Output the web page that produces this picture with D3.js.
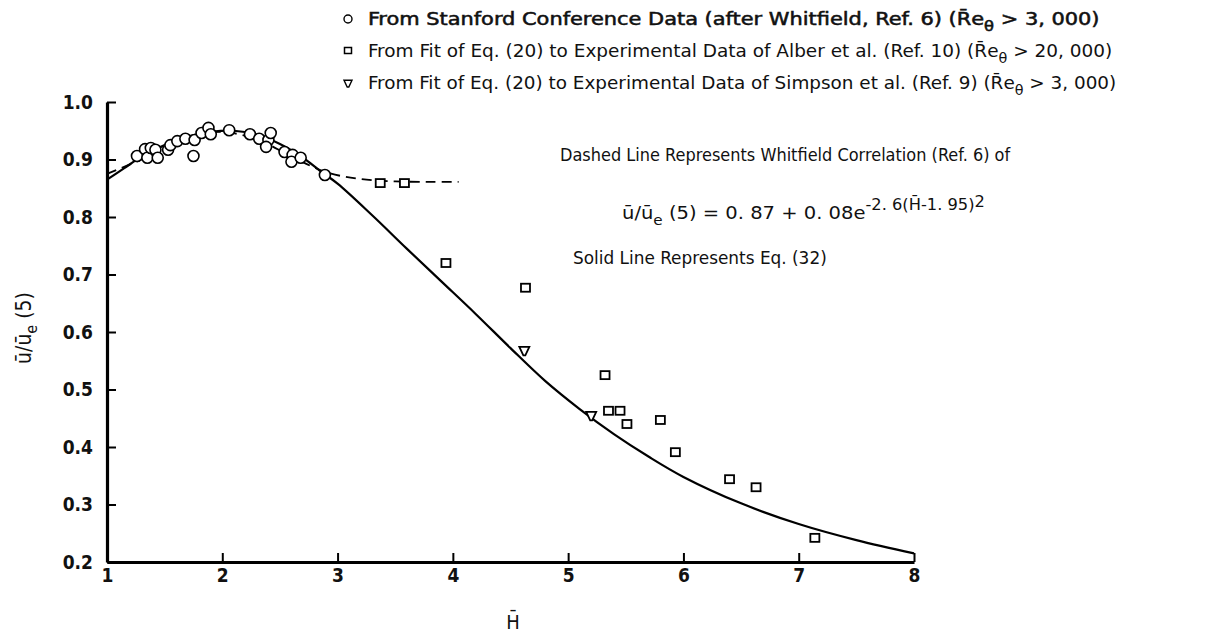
<!DOCTYPE html>
<html><head><meta charset="utf-8">
<script src="https://cdn.jsdelivr.net/npm/d3@7"></script>
<style>body{margin:0;background:#fff} svg{display:block}</style>
</head><body>
<svg id="c" width="1227" height="634"></svg>
<script>
// ---- data ----
const xTicks = [1, 2, 3, 4, 5, 6, 7, 8];
const yTicks = [0.2, 0.3, 0.4, 0.5, 0.6, 0.7, 0.8, 0.9, 1.0];

const stanfordH = [1.26,1.33,1.35,1.38,1.42,1.44,1.53,1.55,1.61,1.68,1.75,1.76,1.82,1.88,1.90,2.06,2.24,2.32,2.40,2.42,2.38,2.54,2.61,2.60,2.68,2.89];
const stanfordU = [0.906,0.918,0.903,0.920,0.917,0.903,0.917,0.925,0.932,0.936,0.906,0.934,0.946,0.955,0.944,0.951,0.944,0.936,0.934,0.946,0.922,0.913,0.908,0.896,0.903,0.873];

const alberH = [3.37,3.58,3.94,4.63,5.32,5.35,5.45,5.51,5.80,5.93,6.40,6.63,7.14];
const alberU = [0.859,0.859,0.720,0.677,0.525,0.463,0.463,0.440,0.447,0.391,0.344,0.330,0.242];

const simpsonH = [4.62, 5.20];
const simpsonU = [0.568, 0.455];

const eq32H = [1.0,1.15,1.3,1.5,1.7,1.9,2.1,2.3,2.5,2.7,2.85,3.0,3.3,3.6,3.9,4.2,4.5,4.8,5.1,5.4,5.7,6.0,6.5,7.0,7.5,8.0];
const eq32U = [0.865,0.885,0.905,0.925,0.940,0.948,0.950,0.943,0.927,0.903,0.880,0.858,0.803,0.745,0.688,0.631,0.572,0.515,0.466,0.422,0.383,0.348,0.302,0.266,0.238,0.215];

const whitH = [1.0,1.3,1.6,1.95,2.3,2.6,2.9,3.2,3.5,3.8,4.05];
const whitU = [0.875,0.900,0.928,0.948,0.935,0.905,0.878,0.866,0.862,0.861,0.861];

const legendLabels = [
  ["From Stanford Conference Data (after Whitfield, Ref. 6) (R\u0304e", "\u03b8", " > 3, 000)"],
  ["From Fit of Eq. (20) to Experimental Data of Alber et al. (Ref. 10) (R\u0304e", "\u03b8", " > 20, 000)"],
  ["From Fit of Eq. (20) to Experimental Data of Simpson et al. (Ref. 9) (R\u0304e", "\u03b8", " > 3, 000)"]
];

// ---- drawing ----
const svg = d3.select("#c");
const FONT = "'Liberation Sans Narrow','DejaVu Sans Condensed','Liberation Sans',sans-serif";
const x = d3.scaleLinear().domain([1, 8]).range([107, 914]);
const y = d3.scaleLinear().domain([0.2, 1.0]).range([562, 102]);

function fitText(sel, x1) {
  const bb = sel.node().getBBox();
  const s = (x1 - bb.x) / bb.width;
  sel.attr("transform", `translate(${bb.x},0) scale(${s},1) translate(${-bb.x},0)`);
}

// axes
const xAxis = d3.axisBottom(x).tickValues(xTicks).tickFormat(d3.format("d"))
  .tickSizeInner(-9).tickSizeOuter(0).tickPadding(7);
const yAxis = d3.axisLeft(y).tickValues(yTicks).tickFormat(d3.format(".1f"))
  .tickSizeInner(-9).tickSizeOuter(0).tickPadding(14);

const gx = svg.append("g").attr("transform", `translate(0,${y(0.2)})`).call(xAxis);
const gy = svg.append("g").attr("transform", `translate(${x(1)},0)`).call(yAxis);
[gx, gy].forEach(g => {
  g.select(".domain").attr("stroke", "#000").attr("stroke-width", 3.2);
  g.selectAll(".tick line").attr("stroke", "#000").attr("stroke-width", 2);
  g.selectAll(".tick text").attr("fill", "#111").style("font-family", FONT).style("font-size", "19px").style("font-weight", "bold");
});

// lines
const line = d3.line().x(d => x(d[0])).y(d => y(d[1])).curve(d3.curveCatmullRom);
svg.append("path").datum(whitH.map((h, i) => [h, whitU[i]]))
  .attr("d", line).attr("fill", "none").attr("stroke", "#000")
  .attr("stroke-width", 1.8).attr("stroke-dasharray", "10,6");
svg.append("path").datum(eq32H.map((h, i) => [h, eq32U[i]]))
  .attr("d", line).attr("fill", "none").attr("stroke", "#000").attr("stroke-width", 2.2);

// markers
const triPath = s => `M${-s},${-s*0.7}L${s},${-s*0.7}L${s*0.2},${s}L${-s*0.2},${s}Z`;

svg.append("g").selectAll("circle").data(stanfordH.map((h, i) => [h, stanfordU[i]]))
  .join("circle").attr("cx", d => x(d[0])).attr("cy", d => y(d[1])).attr("r", 5.5)
  .attr("fill", "#fff").attr("stroke", "#000").attr("stroke-width", 1.6);

svg.append("g").selectAll("rect").data(alberH.map((h, i) => [h, alberU[i]]))
  .join("rect").attr("x", d => x(d[0]) - 4.5).attr("y", d => y(d[1]) - 4).attr("width", 9).attr("height", 8)
  .attr("fill", "#fff").attr("stroke", "#000").attr("stroke-width", 1.8);

svg.append("g").selectAll("path").data(simpsonH.map((h, i) => [h, simpsonU[i]]))
  .join("path").attr("transform", d => `translate(${x(d[0])},${y(d[1])})`).attr("d", triPath(5))
  .attr("fill", "#fff").attr("stroke", "#000").attr("stroke-width", 1.8);

// legend
const legY = [25, 57, 89];
const legEnd = [1100, 1113, 1117];
legendLabels.forEach((parts, i) => {
  const cy = legY[i] - 6;
  if (i === 0) svg.append("circle").attr("cx", 348).attr("cy", cy).attr("r", 4).attr("fill", "#fff").attr("stroke", "#000").attr("stroke-width", 1.4);
  if (i === 1) svg.append("rect").attr("x", 344.5).attr("y", cy - 3.5).attr("width", 7).attr("height", 6).attr("fill", "#fff").attr("stroke", "#000").attr("stroke-width", 1.5);
  if (i === 2) svg.append("path").attr("transform", `translate(348,${cy})`).attr("d", triPath(4)).attr("fill", "#fff").attr("stroke", "#000").attr("stroke-width", 1.4);
  const t = svg.append("text").attr("x", 368).attr("y", legY[i])
    .style("font-family", FONT).style("font-size", "18px").attr("fill", "#111");
  if (i === 0) t.attr("stroke", "#111").attr("stroke-width", 0.5);
  t.append("tspan").text(parts[0]);
  t.append("tspan").attr("dy", 6).style("font-size", "14px").text(parts[1]);
  t.append("tspan").attr("dy", -6).text(parts[2]);
  fitText(t, legEnd[i]);
});

// annotations
const a1 = svg.append("text").attr("x", 560).attr("y", 161)
  .style("font-family", FONT).style("font-size", "18px").attr("fill", "#111")
  .text("Dashed Line Represents Whitfield Correlation (Ref. 6) of");
fitText(a1, 1012);

const a2 = svg.append("text").attr("x", 622).attr("y", 219)
  .style("font-family", FONT).style("font-size", "18px").attr("fill", "#111");
a2.append("tspan").text("\u016b/\u016b");
a2.append("tspan").attr("dy", 6).style("font-size", "14px").text("e");
a2.append("tspan").attr("dy", -6).text(" (5) = 0. 87 + 0. 08e");
a2.append("tspan").attr("dy", -9).style("font-size", "15px").text("-2. 6(H\u0304-1. 95)");
a2.append("tspan").attr("dy", -3).style("font-size", "15px").text("2");
fitText(a2, 985);

const a3 = svg.append("text").attr("x", 573).attr("y", 264)
  .style("font-family", FONT).style("font-size", "18px").attr("fill", "#111")
  .text("Solid Line Represents Eq. (32)");
fitText(a3, 827);

// axis titles
const yl = svg.append("text").attr("transform", "translate(31,328) rotate(-90)")
  .attr("text-anchor", "middle").style("font-family", FONT).style("font-size", "21px").attr("fill", "#111");
yl.append("tspan").text("\u016b/\u016b");
yl.append("tspan").attr("dy", 6).style("font-size", "16px").text("e");
yl.append("tspan").attr("dy", -6).text(" (5)");

svg.append("text").attr("x", 513).attr("y", 629).attr("text-anchor", "middle")
  .style("font-family", FONT).style("font-size", "20px").attr("fill", "#111").text("H\u0304");
</script>
</body></html>
